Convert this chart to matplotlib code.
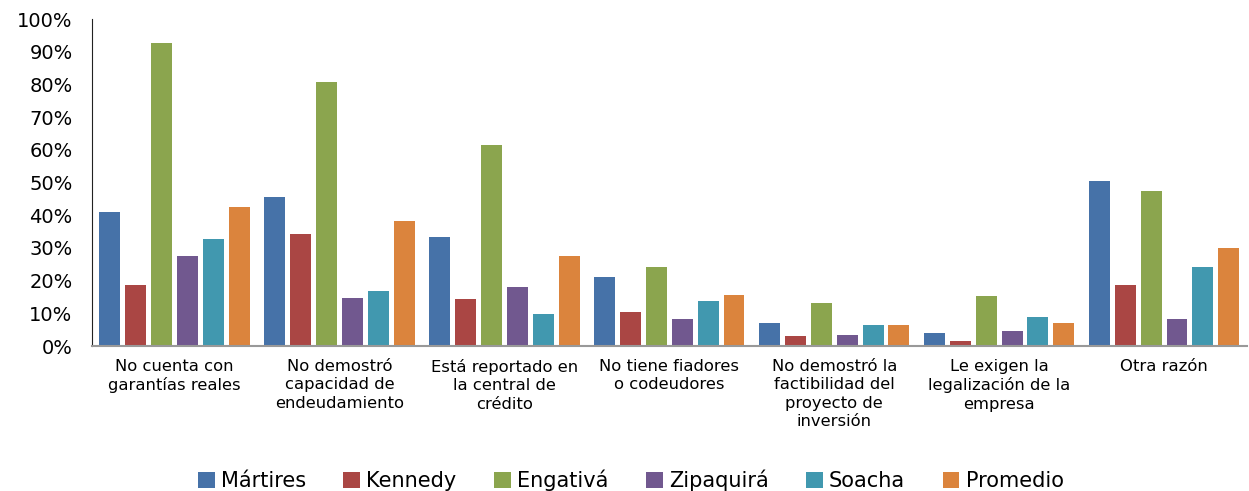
import numpy as np
import matplotlib
matplotlib.use('Agg')
import matplotlib.pyplot as plt
from matplotlib.ticker import FuncFormatter

# Razones de rechazo del crédito, % por localidad
categories = [
    'No cuenta con\ngarantías reales',
    'No demostró\ncapacidad de\nendeudamiento',
    'Está reportado en\nla central de\ncrédito',
    'No tiene fiadores\no codeudores',
    'No demostró la\nfactibilidad del\nproyecto de\ninversión',
    'Le exigen la\nlegalización de la\nempresa',
    'Otra razón',
]
series_names = ['Mártires', 'Kennedy', 'Engativá', 'Zipaquirá', 'Soacha', 'Promedio']

martires = [41.0, 45.6, 33.3, 21.1, 7.0, 4.0, 50.5]
kennedy = [18.7, 34.3, 14.4, 10.4, 3.1, 1.5, 18.7]
engativa = [92.7, 80.7, 61.5, 24.2, 13.1, 15.3, 47.4]
zipaquira = [27.5, 14.7, 18.0, 8.3, 3.4, 4.6, 8.3]
soacha = [32.7, 16.8, 9.8, 13.8, 6.4, 8.9, 24.2]
promedio = [42.5, 38.2, 27.5, 15.6, 6.4, 7.0, 30.0]

values = [martires, kennedy, engativa, zipaquira, soacha, promedio]
colors = ['#4672A8', '#AA4644', '#8BA54E', '#71588F', '#4198AF', '#DB843D']

fig = plt.figure(figsize=(12.49, 4.91), dpi=100)
ax = fig.add_axes([0.0737, 0.2953, 0.9243, 0.666])

x = np.arange(len(categories))
bar_w = 0.127
step = 0.157
for i, (name, vals) in enumerate(zip(series_names, values)):
    offset = (i - 2.5) * step
    ax.bar(x + offset, vals, width=bar_w, color=colors[i], label=name)

ax.set_xlim(-0.5, len(categories) - 0.5)
ax.set_ylim(0, 100)
ax.set_yticks(np.arange(0, 101, 10))
ax.yaxis.set_major_formatter(FuncFormatter(lambda v, p: f'{int(v)}%'))
ax.tick_params(axis='y', length=0, labelsize=14, pad=14)
ax.set_xticks(x)
ax.set_xticklabels(categories, fontsize=11.8, va='top', linespacing=1.3)
ax.tick_params(axis='x', length=0, pad=9)

for s in ['top', 'right']:
    ax.spines[s].set_visible(False)
ax.spines['left'].set_color('#222222')
ax.spines['bottom'].set_color('#999999')
ax.spines['bottom'].set_linewidth(1.5)

fig.legend(loc='center', bbox_to_anchor=(0.505, 0.022), ncol=6, frameon=False,
           fontsize=15, handlelength=0.8, handleheight=0.8, handletextpad=0.3,
           columnspacing=1.8)

fig.savefig('out.png', dpi=100)
